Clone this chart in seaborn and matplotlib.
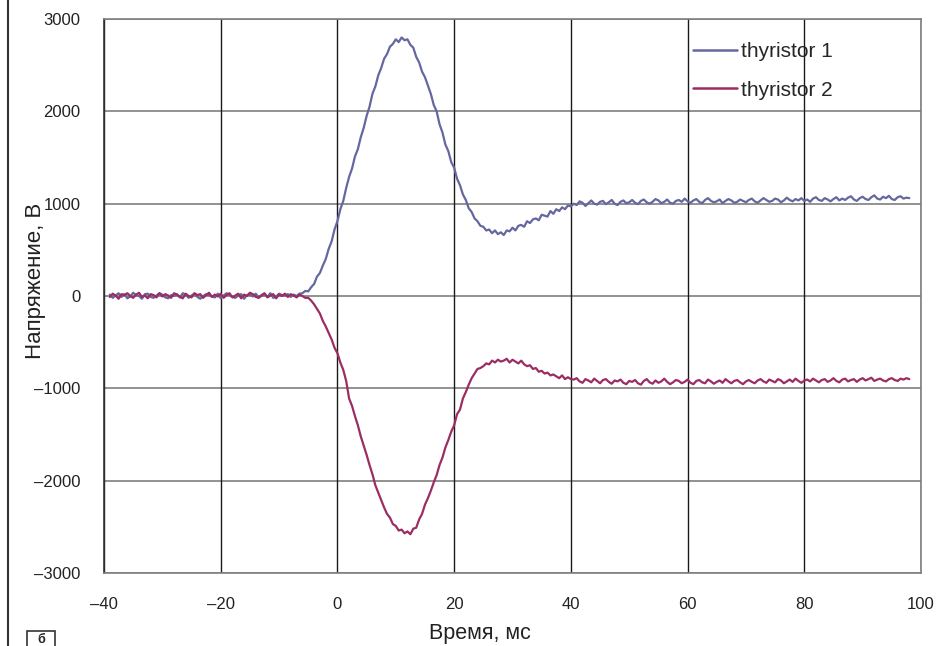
import numpy as np
import pandas as pd
import matplotlib
matplotlib.use("Agg")
import matplotlib.pyplot as plt
from matplotlib.lines import Line2D
from matplotlib.patches import Rectangle
import seaborn as sns

# time grid (ms), sampled every 0.5 ms
time_ms = np.arange(-39.0, 98.01, 0.5)

thyristor_1 = [
    # -39 .. -5.5
    15, -20, 5, 30, -10, 20, -25, -5, 35, 10, 0, -30, 20, 25, -10, -20, 5, 30, 15, -15,
    -25, 10, 0, 20, -15, 30, 15, -20, 5, 25, -10, -30, 0, 20, 10, -5, -15, 25, -25, 5,
    30, 10, -10, -20, 5, 20, -30, 10, 15, -5, 25, -15, 0, 20, -10, 30, -20, -5, 25, 10,
    5, 20, -10, 15, 0, 25, 30, 55,
    # -5 .. 40
    50, 95, 130, 210, 250, 330, 400, 510, 590, 720, 810,
    940, 1030, 1170, 1290, 1380, 1510, 1590, 1720, 1820, 1950, 2050, 2190, 2270, 2390, 2470, 2570, 2620, 2700, 2730, 2780,
    2750, 2800, 2770, 2780, 2720, 2690, 2590, 2530, 2430, 2370, 2280, 2190, 2070, 2000, 1860, 1770, 1640, 1570, 1450, 1390,
    1270, 1200, 1100, 1040, 950, 910, 840, 810, 760, 750, 710, 720, 680, 710, 670, 690, 660, 710, 700, 740,
    710, 760, 770, 750, 810, 790, 830, 840, 820, 880, 870, 860, 920, 890, 940, 920, 960, 940, 980, 970,
    # 40.5 .. 98
    1000, 985, 1025, 1010, 975, 1005, 1035, 1000, 990, 1020, 1030, 995, 1015, 1040, 1000, 985, 1020, 1035, 1005, 1015,
    1040, 1010, 995, 1030, 1045, 1015, 1000, 1020, 1050, 1035, 1005, 1020, 1045, 1010, 1000, 1030, 1040, 1020, 1055, 1025,
    1010, 1035, 1050, 1020, 1005, 1040, 1060, 1030, 1015, 1025, 1045, 1005, 1030, 1050, 1035, 1010, 1020, 1045, 1030, 1015,
    1040, 1055, 1025, 1010, 1035, 1060, 1040, 1020, 1030, 1055, 1045, 1015, 1035, 1065, 1040, 1025, 1050, 1035, 1060, 1030,
    1045, 1020, 1055, 1070, 1040, 1030, 1060, 1045, 1025, 1050, 1070, 1035, 1055, 1040, 1065, 1080, 1045, 1030, 1060, 1075,
    1050, 1040, 1070, 1090, 1055, 1045, 1075, 1060, 1085, 1050, 1040, 1070, 1080, 1055, 1065, 1060,
]

thyristor_2 = [
    # -39 .. -5.5
    -10, 25, 5, -30, 20, 10, 30, 0, -20, 15, 35, -10, 5, -25, 20, 10, -15, 30, -5, 20,
    5, -20, 30, 15, -10, -25, 25, 0, -15, 30, 10, 20, -20, 10, 35, -10, 15, -5, 25, -20,
    10, 30, -15, 5, 25, -25, 15, 0, 35, 20, -10, -20, 10, 30, -15, 5, 20, -25, 15, 0,
    25, -10, 20, 5, -15, 15, 0, -20,
    # -5 .. 40
    -20, -50, -90, -140, -190, -270, -330, -400, -470, -560, -620,
    -720, -800, -920, -1110, -1190, -1300, -1400, -1520, -1620, -1720, -1830, -1930, -2050, -2130, -2210, -2290, -2360, -2400, -2470, -2490,
    -2540, -2530, -2570, -2550, -2580, -2520, -2510, -2420, -2360, -2260, -2190, -2110, -2020, -1940, -1830, -1750, -1640, -1560, -1470, -1400,
    -1280, -1230, -1110, -1040, -960, -890, -840, -790, -780, -760, -730, -740, -700, -720, -690, -710, -700, -680, -720, -690,
    -710, -730, -700, -740, -760, -750, -790, -780, -820, -810, -840, -830, -860, -850, -870, -890, -860, -900, -880, -900,
    # 40.5 .. 98
    -905, -890, -925, -940, -900, -915, -935, -895, -920, -945, -910, -900, -930, -950, -915, -925, -905, -940, -955, -920,
    -930, -910, -945, -960, -920, -900, -935, -950, -915, -940, -925, -895, -930, -955, -935, -910, -920, -945, -930, -905,
    -940, -955, -920, -910, -935, -945, -905, -925, -950, -930, -915, -940, -900, -925, -945, -920, -910, -935, -955, -925,
    -910, -930, -945, -915, -900, -925, -940, -905, -920, -935, -900, -915, -945, -925, -905, -930, -895, -920, -940, -915,
    -905, -925, -895, -915, -935, -910, -900, -930, -915, -890, -920, -935, -905, -895, -925, -910, -900, -930, -905, -890,
    -915, -900, -885, -920, -905, -895, -915, -925, -900, -890, -910, -920, -895, -905, -890, -900,
]

series_names = ["thyristor 1", "thyristor 2"]
series_colors = ["#65679F", "#9B2D63"]
x_ticks = [-40, -20, 0, 20, 40, 60, 80, 100]
y_ticks = [-3000, -2000, -1000, 0, 1000, 2000, 3000]
x_label = "Время, мс"
y_label = "Напряжение, В"

df = pd.DataFrame({
    "t": np.concatenate([time_ms, time_ms]),
    "v": np.concatenate([thyristor_1, thyristor_2]),
    "series": [series_names[0]] * len(time_ms) + [series_names[1]] * len(time_ms),
})

sns.set_style("white")
plt.rcParams["font.family"] = ["Liberation Sans", "DejaVu Sans"]

fig = plt.figure(figsize=(9.47, 6.46), dpi=100)
ax = fig.add_axes([104 / 947, 1 - 573 / 646, (921 - 104) / 947, (573 - 19) / 646])

sns.lineplot(data=df, x="t", y="v", hue="series", palette=series_colors,
             sort=False, estimator=None, linewidth=1.6, ax=ax, zorder=3)

ax.set_xlim(-40, 100)
ax.set_ylim(-3000, 3000)
ax.set_xticks(x_ticks)
ax.set_yticks(y_ticks)
ax.set_xticklabels([str(v).replace("-", "\u2013") for v in x_ticks], fontsize=12)
ax.set_yticklabels([str(v).replace("-", "\u2013") for v in y_ticks], fontsize=12)
ax.tick_params(axis="x", length=0, pad=17.5, colors="#222222")
ax.tick_params(axis="y", length=4, width=1, direction="out", pad=13, colors="#222222")
ax.set_xlabel("")
ax.set_ylabel("")

# grid: horizontal grey, vertical dark
ax.grid(False)
for yv in y_ticks:
    ax.axhline(yv, color="#7f7f7f", linewidth=1.2, zorder=1)
for xv in x_ticks:
    ax.axvline(xv, color="#1a1a1a", linewidth=1.0, zorder=1)

for side in ["top", "right", "bottom"]:
    ax.spines[side].set_color("#808080")
    ax.spines[side].set_linewidth(1.2)
ax.spines["left"].set_color("#333333")
ax.spines["left"].set_linewidth(1.2)

fig.text(36 / 947, 1 - 281 / 646, y_label, rotation=90, ha="center", va="center",
         fontsize=16, color="#222222")
fig.text(480 / 947, 1 - 634 / 646, x_label, ha="center", va="center",
         fontsize=15.5, color="#222222")

leg = ax.legend(loc="upper left", bbox_to_anchor=(693 / 947, 1 - 42 / 646),
                bbox_transform=fig.transFigure, frameon=False, fontsize=15,
                handlelength=2.1, handletextpad=0.2, labelspacing=0.95, borderpad=0,
                borderaxespad=0)
for h in leg.get_lines():
    h.set_linewidth(1.8)

# figure left border line and the panel tag box
fig.add_artist(Line2D([8 / 947, 8 / 947], [0, 1], color="#333333", linewidth=1.5))
fig.add_artist(Rectangle((27 / 947, -0.02), 28 / 947, (646 - 631) / 646 + 0.02,
                         transform=fig.transFigure, fill=False, edgecolor="#333333", linewidth=1.2))
fig.text(41 / 947, 1 - 634 / 646, "б", ha="center", va="top", fontsize=9,
         fontweight="bold", color="#222222")

fig.savefig("out.png", dpi=100)
